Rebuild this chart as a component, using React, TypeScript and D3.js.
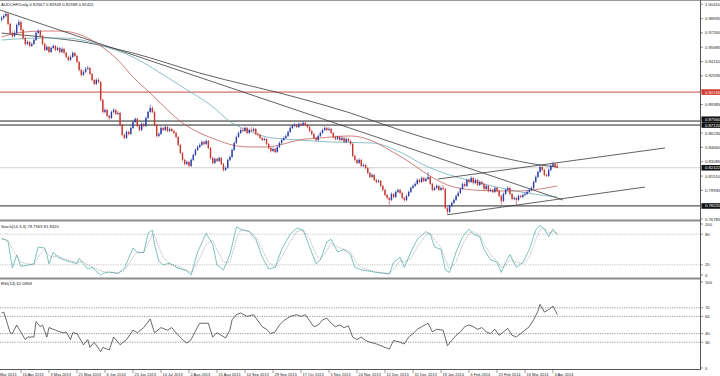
import React from 'react';
import * as d3 from 'd3';

// ---------- DATA ----------
const firstOpen = 0.987;
const closes = [0.9890,0.9912,0.9934,0.9824,0.9725,0.9692,0.9725,0.9813,0.9846,0.9758,
0.9670,0.9604,0.9626,0.9582,0.9604,0.9648,0.9725,0.9747,0.9692,0.9604,
0.9538,0.9571,0.9516,0.9560,0.9582,0.9538,0.9560,0.9516,0.9549,0.9505,
0.9461,0.9428,0.9461,0.9505,0.9472,0.9406,0.9318,0.9263,0.9296,0.9329,
0.9340,0.9274,0.9208,0.9164,0.9208,0.9186,0.8988,0.8856,0.8878,0.8812,
0.8790,0.8856,0.8878,0.8834,0.8845,0.8713,0.8603,0.8570,0.8636,0.8614,
0.8680,0.8746,0.8779,0.8702,0.8658,0.8724,0.8702,0.8790,0.8856,0.8900,
0.8856,0.8713,0.8592,0.8614,0.8680,0.8658,0.8691,0.8647,0.8669,0.8647,
0.8625,0.8581,0.8493,0.8405,0.8328,0.8284,0.8306,0.8262,0.8328,0.8383,
0.8438,0.8470,0.8493,0.8526,0.8504,0.8537,0.8460,0.8350,0.8295,0.8339,
0.8317,0.8350,0.8284,0.8218,0.8240,0.8328,0.8361,0.8438,0.8515,0.8581,
0.8625,0.8658,0.8647,0.8680,0.8625,0.8658,0.8647,0.8669,0.8614,0.8603,
0.8570,0.8548,0.8559,0.8504,0.8460,0.8427,0.8449,0.8416,0.8470,0.8515,
0.8548,0.8570,0.8592,0.8636,0.8680,0.8702,0.8713,0.8691,0.8724,0.8713,
0.8735,0.8713,0.8691,0.8647,0.8614,0.8570,0.8548,0.8592,0.8625,0.8658,
0.8680,0.8658,0.8669,0.8625,0.8581,0.8559,0.8581,0.8548,0.8570,0.8526,
0.8559,0.8537,0.8504,0.8372,0.8328,0.8295,0.8328,0.8262,0.8273,0.8240,
0.8185,0.8141,0.8163,0.8108,0.8086,0.8097,0.8042,0.7998,0.7943,0.7910,
0.7888,0.7954,0.7921,0.7976,0.7998,0.7965,0.7910,0.7888,0.7932,0.7976,
0.8020,0.8042,0.8064,0.8108,0.8086,0.8130,0.8097,0.8119,0.8141,0.8064,
0.7998,0.8020,0.8042,0.7998,0.8020,0.8009,0.7800,0.7756,0.7822,0.7855,
0.7888,0.7932,0.7965,0.8009,0.8064,0.8042,0.8108,0.8086,0.8130,0.8075,
0.8108,0.8053,0.8086,0.8064,0.8009,0.8042,0.7987,0.7998,0.7976,0.8020,
0.7987,0.7932,0.7877,0.7954,0.7998,0.8020,0.7954,0.7899,0.7910,0.7888,
0.7932,0.7921,0.7943,0.7954,0.7976,0.7998,0.8020,0.8086,0.8141,0.8196,
0.8251,0.8218,0.8163,0.8152,0.8218,0.8262,0.8284,0.8257,0.82422];
const highs = [0.9912,0.9931,0.9958,0.9946,0.9838,0.9741,0.9749,0.9829,0.9870,0.9858,
0.9773,0.9684,0.9645,0.9638,0.9622,0.9663,0.9741,0.9768,0.9760,0.9703,
0.9617,0.9589,0.9582,0.9577,0.9601,0.9594,0.9578,0.9571,0.9565,0.9560,
0.9517,0.9472,0.9479,0.9523,0.9516,0.9484,0.9417,0.9330,0.9314,0.9350,
0.9362,0.9352,0.9286,0.9219,0.9225,0.9230,0.9196,0.9002,0.8899,0.8890,
0.8825,0.8872,0.8897,0.8890,0.8866,0.8856,0.8725,0.8617,0.8652,0.8650,
0.8697,0.8762,0.8797,0.8790,0.8714,0.8741,0.8738,0.8806,0.8870,0.8935,
0.8918,0.8868,0.8726,0.8632,0.8698,0.8692,0.8708,0.8703,0.8686,0.8681,
0.8660,0.8638,0.8593,0.8506,0.8418,0.8340,0.8324,0.8318,0.8345,0.8398,
0.8452,0.8488,0.8512,0.8543,0.8540,0.8555,0.8549,0.8472,0.8362,0.8356,
0.8352,0.8366,0.8362,0.8296,0.8258,0.8344,0.8379,0.8454,0.8530,0.8597,
0.8642,0.8676,0.8684,0.8697,0.8692,0.8674,0.8688,0.8685,0.8680,0.8628,
0.8616,0.8582,0.8575,0.8571,0.8516,0.8472,0.8466,0.8460,0.8487,0.8530,
0.8565,0.8587,0.8610,0.8652,0.8697,0.8720,0.8733,0.8727,0.8741,0.8739,
0.8752,0.8748,0.8726,0.8703,0.8660,0.8626,0.8584,0.8608,0.8641,0.8674,
0.8698,0.8693,0.8687,0.8682,0.8637,0.8594,0.8598,0.8593,0.8588,0.8582,
0.8575,0.8572,0.8549,0.8516,0.8385,0.8340,0.8346,0.8340,0.8292,0.8285,
0.8252,0.8198,0.8180,0.8175,0.8121,0.8115,0.8109,0.8055,0.8010,0.7956,
0.7922,0.7970,0.7966,0.7992,0.8015,0.8010,0.7977,0.7922,0.7948,0.7991,
0.8036,0.8060,0.8082,0.8124,0.8122,0.8146,0.8143,0.8136,0.8195,0.8153,
0.8076,0.8038,0.8060,0.8054,0.8037,0.8052,0.8020,0.7812,0.7838,0.7870,
0.7905,0.7948,0.7982,0.8025,0.8080,0.8078,0.8124,0.8122,0.8148,0.8142,
0.8125,0.8120,0.8102,0.8100,0.8076,0.8058,0.8054,0.8016,0.8012,0.8036,
0.8032,0.7999,0.7944,0.7970,0.8014,0.8038,0.8032,0.7966,0.7928,0.7922,
0.7948,0.7946,0.7960,0.7972,0.7992,0.8015,0.8038,0.8102,0.8158,0.8212,
0.8268,0.8263,0.8230,0.8176,0.8234,0.8278,0.8309,0.8298,0.82949];
const lows = [0.9851,0.9875,0.9898,0.9810,0.9703,0.9670,0.9680,0.9712,0.9797,0.9741,
0.9652,0.9587,0.9590,0.9566,0.9571,0.9593,0.9636,0.9712,0.9678,0.9590,
0.9521,0.9526,0.9500,0.9507,0.9548,0.9524,0.9527,0.9503,0.9505,0.9490,
0.9447,0.9410,0.9418,0.9450,0.9460,0.9391,0.9302,0.9245,0.9250,0.9284,
0.9318,0.9260,0.9192,0.9148,0.9150,0.9170,0.8970,0.8838,0.8840,0.8795,
0.8770,0.8778,0.8842,0.8820,0.8822,0.8698,0.8588,0.8552,0.8560,0.8600,
0.8603,0.8668,0.8735,0.8688,0.8640,0.8647,0.8688,0.8690,0.8779,0.8845,
0.8840,0.8698,0.8575,0.8578,0.8601,0.8644,0.8646,0.8634,0.8635,0.8633,
0.8610,0.8566,0.8478,0.8390,0.8312,0.8268,0.8272,0.8248,0.8251,0.8316,
0.8371,0.8426,0.8459,0.8480,0.8490,0.8492,0.8446,0.8335,0.8280,0.8284,
0.8303,0.8305,0.8270,0.8200,0.8206,0.8230,0.8316,0.8350,0.8426,0.8503,
0.8570,0.8612,0.8633,0.8635,0.8610,0.8613,0.8632,0.8636,0.8600,0.8588,
0.8556,0.8533,0.8535,0.8490,0.8446,0.8411,0.8415,0.8400,0.8405,0.8458,
0.8503,0.8537,0.8558,0.8580,0.8625,0.8668,0.8690,0.8678,0.8680,0.8700,
0.8702,0.8700,0.8677,0.8633,0.8600,0.8556,0.8532,0.8537,0.8580,0.8613,
0.8646,0.8644,0.8645,0.8611,0.8567,0.8544,0.8547,0.8534,0.8536,0.8512,
0.8514,0.8524,0.8490,0.8358,0.8312,0.8280,0.8284,0.8248,0.8250,0.8226,
0.8170,0.8126,0.8130,0.8094,0.8070,0.8074,0.8028,0.7983,0.7928,0.7894,
0.7835,0.7876,0.7906,0.7910,0.7964,0.7950,0.7896,0.7870,0.7876,0.7920,
0.7965,0.8008,0.8030,0.8052,0.8072,0.8074,0.8083,0.8085,0.8108,0.8050,
0.7984,0.7986,0.8008,0.7984,0.7986,0.7995,0.7786,0.7725,0.7745,0.7810,
0.7842,0.7876,0.7920,0.7953,0.7998,0.8028,0.8030,0.8072,0.8075,0.8060,
0.8062,0.8040,0.8040,0.8050,0.7995,0.7996,0.7972,0.7975,0.7962,0.7965,
0.7973,0.7918,0.7835,0.7866,0.7942,0.7986,0.7940,0.7884,0.7886,0.7838,
0.7876,0.7906,0.7908,0.7930,0.7942,0.7964,0.7986,0.8008,0.8074,0.8130,
0.8184,0.8204,0.8148,0.8140,0.8140,0.8206,0.8250,0.8242,0.82388];

// moving averages: [bar index, price]
const maRed = [[0,0.9680],[7,0.9724],[19,0.9746],[27,0.9746],[38,0.9692],[46,0.9582],[54,0.9428],[61,0.9240],[69,0.9064],[77,0.8878],[84,0.8735],[92,0.8625],[100,0.8548],[107,0.8493],[115,0.8471],[123,0.8471],[131,0.8504],[138,0.8548],[148,0.8570],[162,0.8592],[171,0.8548],[180,0.8438],[190,0.8295],[196,0.8196],[207,0.8053],[219,0.7998],[231,0.7987],[241,0.7987],[250,0.8009],[258,0.8042]];
const maTeal = [[0,0.9647],[18,0.9669],[30,0.9669],[41,0.9625],[50,0.9559],[61,0.9460],[73,0.9295],[84,0.9130],[97,0.8932],[107,0.8735],[115,0.8647],[123,0.8581],[131,0.8559],[138,0.8548],[152,0.8526],[172,0.8515],[185,0.8415],[196,0.8273],[208,0.8163],[222,0.8075],[236,0.7998],[250,0.7943],[258,0.7921]];
const maDark = [[0,0.9724],[19,0.9680],[38,0.9625],[61,0.9504],[92,0.9284],[138,0.9009],[162,0.8844],[185,0.8657],[208,0.8493],[231,0.8361],[250,0.8273],[258,0.8251]];

// trend lines: [[bar, price], [bar, price]]
const trendLines = [
  [[-0.7, 0.99775], [260.6, 0.78875]],
  [[202.6, 0.8118], [308, 0.8460]],
  [[207, 0.7725], [298.7, 0.8030]],
];

// horizontal levels
const levelValues = [0.90745, 0.87560, 0.87120, 0.82422, 0.78220];

const mainTicks = [1.0041,0.98835,0.9726,0.95685,0.9411,0.92535,0.9096,0.89385,0.8781,0.86235,0.8466,0.83085,0.8151,0.79935,0.7836,0.76785];

const stochMain = [[0,72],[2,69],[3,65],[5,14],[7,39],[9,17],[12,19],[15,22],[17,55],[20,53],[21,40],[22,22],[24,45],[26,35],[30,28],[35,22],[36,33],[38,22],[40,12],[42,15],[46,0],[47,3],[50,6],[54,3],[57,13],[61,53],[63,44],[66,44],[68,82],[70,88],[71,60],[73,27],[75,20],[78,23],[81,15],[86,8],[88,0],[91,45],[95,82],[98,60],[100,20],[103,10],[106,40],[109,94],[111,90],[115,85],[118,70],[121,35],[124,12],[127,15],[130,50],[134,80],[137,92],[140,88],[143,55],[146,22],[148,30],[151,65],[153,70],[156,45],[159,50],[162,40],[164,15],[167,10],[170,8],[174,5],[178,3],[180,2],[182,25],[185,35],[187,15],[190,45],[193,70],[197,85],[199,80],[201,55],[204,50],[206,10],[208,5],[211,45],[214,75],[217,90],[219,80],[222,75],[224,50],[227,30],[230,25],[232,5],[234,25],[236,40],[239,15],[242,25],[245,50],[248,88],[250,97],[252,90],[254,75],[256,90],[258,78.76]];
const stochSignal = [[0,70],[3,68],[5,50],[7,38],[9,25],[12,22],[15,20],[17,35],[20,50],[22,38],[24,35],[26,38],[30,30],[35,25],[38,26],[40,20],[42,16],[46,8],[50,5],[54,4],[57,8],[61,35],[63,45],[66,44],[68,62],[70,80],[71,78],[73,55],[75,35],[78,22],[81,18],[86,10],[88,5],[91,25],[95,60],[98,68],[100,50],[103,25],[106,25],[109,70],[111,88],[115,86],[118,75],[121,50],[124,25],[127,15],[130,35],[134,65],[137,85],[140,88],[143,70],[146,40],[148,30],[151,48],[153,62],[156,55],[159,50],[162,45],[164,28],[167,15],[170,10],[174,6],[178,4],[180,3],[182,12],[185,28],[187,25],[190,32],[193,55],[197,78],[199,82],[201,68],[204,55],[206,30],[208,12],[211,25],[214,60],[217,82],[219,85],[222,78],[224,62],[227,40],[230,28],[232,15],[234,18],[236,30],[239,25],[242,22],[245,35],[248,70],[250,88],[252,92],[254,82],[256,85],[258,81.83]];
const stochLevels = [80, 20];
const stochTicks = [100, 80, 20, 0];

const rsi = [[0,64],[1,65],[4,41],[5,40],[7,50],[11,33],[12,36],[15,36],[16,54],[18,48],[19,50],[21,36],[22,47],[25,44],[27,42],[29,41],[30,42],[32,33],[33,41],[35,40],[38,27],[40,33],[41,24],[43,30],[46,19],[47,24],[50,21],[52,36],[55,27],[58,33],[61,44],[63,41],[66,47],[69,57],[71,41],[74,47],[77,44],[79,47],[81,41],[84,33],[86,29],[88,33],[91,48],[92,52],[94,52],[96,52],[98,36],[100,41],[102,38],[104,35],[106,44],[107,56],[109,62],[111,64],[114,60],[117,62],[119,55],[121,48],[123,45],[125,40],[127,42],[129,50],[131,55],[134,60],[137,62],[139,60],[141,62],[143,55],[145,48],[147,50],[149,56],[151,58],[153,52],[155,48],[157,50],[159,47],[161,49],[163,36],[165,33],[167,36],[169,32],[171,30],[174,28],[177,25],[180,22],[182,32],[185,30],[187,28],[189,36],[191,40],[193,45],[195,48],[198,52],[200,42],[202,45],[205,44],[207,26],[209,32],[211,38],[213,42],[215,48],[217,50],[219,48],[221,45],[223,47],[225,42],[227,40],[229,45],[231,38],[233,42],[235,46],[237,38],[239,36],[241,40],[243,44],[245,48],[247,56],[249,66],[250,74],[252,65],[254,68],[256,72],[258,62.1]];
const rsiLevels = [70, 60, 40, 30];
const rsiTicks = [100, 70, 60, 40, 30, 0];

const xTickIdx = [-4, 9, 22, 35, 48, 61, 74, 87, 100, 113, 126, 139, 152, 165, 178, 191, 204, 217, 230, 243, 256];
const xTickLabels = ["28 Mar 2013","16 Apr 2013","3 May 2013","21 May 2013","6 Jun 2013","25 Jun 2013","14 Jul 2013","2 Aug 2013","21 Aug 2013","10 Sep 2013","29 Sep 2013","17 Oct 2013","5 Nov 2013","24 Nov 2013","12 Dec 2013","31 Dec 2013","19 Jan 2014","6 Feb 2014","25 Feb 2014","16 Mar 2014","3 Apr 2014"];

const headerText = "AUDCHF,Daily  0.82567 0.82949 0.82388 0.82422";
const stochTitle = "Stoch(14,3,3) 78.7563 81.8320";
const rsiTitle = "RSI(14) 62.0968";

// ---------- CHART ----------
export default function App() {
  const W = 720, H = 376;
  const axisX = 700.5;
  const font = "'Liberation Sans', Arial, sans-serif";
  const fs = 4.2;

  const x = d3.scaleLinear().domain([0, 258]).range([1.6, 557.3]);
  const yM = d3.scaleLinear().domain([0.76785, 1.0041]).range([219, 4.23]);
  const yS = d3.scaleLinear().domain([0, 100]).range([275, 224]);
  const yR = d3.scaleLinear().domain([0, 100]).range([368, 282]);

  const opens = closes.map((c, i) => (i === 0 ? firstOpen : closes[i - 1]));
  const bull = '#2b3ea8';
  const bear = '#c8362f';

  const maLine = d3.line<number[]>().x(d => x(d[0])).y(d => yM(d[1])).curve(d3.curveMonotoneX);
  const sLine = d3.line<number[]>().x(d => x(d[0])).y(d => yS(d[1]));
  const rLine = d3.line<number[]>().x(d => x(d[0])).y(d => yR(d[1]));
  const fmt = d3.format('.5f');

  const levelColors = ['#c0392b', '#222', '#222', '#bbb', '#555'];
  const levelBox = ['#d23a2e', '#111', '#111', '#111', '#111'];
  const levelWidth = [0.9, 1, 1, 0.7, 1.3];

  // axis labels hidden under the level label boxes
  const visibleTicks = mainTicks.filter(v => levelValues.every(l => Math.abs(yM(v) - yM(l)) > 5.8));
  // stack the two close level boxes so they don't overlap
  const boxY = levelValues.map(v => yM(v));
  boxY[1] = Math.min(boxY[1], boxY[2] - 5.8);

  return (
    <div style={{ position: 'absolute', left: 0, top: 0 }}>
      <svg width={W} height={H} style={{ display: 'block', background: '#fff' }} fontFamily={font}>
        <defs>
          <clipPath id="mainClip"><rect x={0} y={1} width={axisX} height={218.5} /></clipPath>
          <clipPath id="stochClip"><rect x={0} y={221.5} width={axisX} height={56} /></clipPath>
          <clipPath id="rsiClip"><rect x={0} y={279.5} width={axisX} height={90} /></clipPath>
        </defs>
        <rect x={0} y={0} width={W} height={H} fill="#fff" />
        {/* top border */}
        <line x1={0} x2={W} y1={0.5} y2={0.5} stroke="#9a9a9a" strokeWidth={1} />

        {/* main panel */}
        <g clipPath="url(#mainClip)">
          {levelValues.map((v, i) => (
            <line key={'lv' + i} x1={0} x2={axisX} y1={yM(v)} y2={yM(v)} stroke={levelColors[i]} strokeWidth={levelWidth[i]} />
          ))}
          <path d={maLine(maDark) || ''} fill="none" stroke="#3a3a3a" strokeWidth={0.8} />
          <path d={maLine(maTeal) || ''} fill="none" stroke="#6fb0b8" strokeWidth={0.8} />
          <path d={maLine(maRed) || ''} fill="none" stroke="#c0605a" strokeWidth={0.8} />
          {trendLines.map((t, i) => (
            <line key={'tl' + i} x1={x(t[0][0])} y1={yM(t[0][1])} x2={x(t[1][0])} y2={yM(t[1][1])} stroke="#3a3a3a" strokeWidth={0.8} />
          ))}
          {closes.map((c, i) => {
            const o = opens[i];
            const col = c >= o ? bull : bear;
            const top = yM(Math.max(o, c));
            const bot = yM(Math.min(o, c));
            return (
              <g key={'c' + i}>
                <line x1={x(i)} x2={x(i)} y1={yM(highs[i])} y2={yM(lows[i])} stroke={col} strokeWidth={0.6} />
                <rect x={x(i) - 0.7} y={top} width={1.4} height={Math.max(0.6, bot - top)} fill={col} />
              </g>
            );
          })}
        </g>
        <text x={1} y={6} fontSize={fs} fill="#222">{headerText}</text>

        {/* main axis labels */}
        {mainTicks.map((v, i) => (
          <line key={'mk' + i} x1={axisX} x2={axisX + 2.5} y1={yM(v)} y2={yM(v)} stroke="#444" strokeWidth={0.6} />
        ))}
        {visibleTicks.map((v, i) => (
          <text key={'mt' + i} x={705} y={yM(v) + 1.5} fontSize={fs} fill="#222">{fmt(v)}</text>
        ))}
        {levelValues.map((v, i) => (
          <g key={'lb' + i}>
            <rect x={701.5} y={boxY[i] - 2.8} width={18.5} height={5.6} fill={levelBox[i]} />
            <text x={705} y={boxY[i] + 1.5} fontSize={fs} fill="#fff">{fmt(v)}</text>
          </g>
        ))}

        {/* separators */}
        <rect x={0} y={219.5} width={axisX} height={2} fill="#8c8c8c" />
        <rect x={0} y={277.5} width={axisX} height={2} fill="#8c8c8c" />

        {/* stochastic */}
        <g clipPath="url(#stochClip)">
          {stochLevels.map((v, i) => (
            <line key={'sl' + i} x1={0} x2={axisX} y1={yS(v)} y2={yS(v)} stroke="#9a9a9a" strokeWidth={0.6} strokeDasharray="1.2,1.2" />
          ))}
          <path d={sLine(stochMain) || ''} fill="none" stroke="#5fb3ad" strokeWidth={0.8} />
          <path d={sLine(stochSignal) || ''} fill="none" stroke="#777" strokeWidth={0.6} strokeDasharray="1,1" />
        </g>
        <text x={1} y={227.8} fontSize={fs} fill="#222">{stochTitle}</text>
        {stochTicks.map((v, i) => (
          <g key={'st' + i}>
            <line x1={axisX} x2={axisX + 2.5} y1={yS(v)} y2={yS(v)} stroke="#444" strokeWidth={0.6} />
            <text x={705} y={yS(v) + 1.5} fontSize={fs} fill="#222">{v}</text>
          </g>
        ))}

        {/* RSI */}
        <g clipPath="url(#rsiClip)">
          {rsiLevels.map((v, i) => (
            <line key={'rl' + i} x1={0} x2={axisX} y1={yR(v)} y2={yR(v)} stroke="#555" strokeWidth={0.6} strokeDasharray="1.2,1.2" />
          ))}
          <path d={rLine(rsi) || ''} fill="none" stroke="#2a2a2a" strokeWidth={0.7} />
        </g>
        <text x={1} y={285} fontSize={fs} fill="#222">{rsiTitle}</text>
        {rsiTicks.map((v, i) => (
          <g key={'rt' + i}>
            <line x1={axisX} x2={axisX + 2.5} y1={yR(v)} y2={yR(v)} stroke="#444" strokeWidth={0.6} />
            <text x={705} y={yR(v) + 1.5} fontSize={fs} fill="#222">{v}</text>
          </g>
        ))}

        {/* frame */}
        <line x1={axisX} x2={axisX} y1={0} y2={370} stroke="#555" strokeWidth={1} />
        <line x1={0} x2={axisX} y1={369.5} y2={369.5} stroke="#555" strokeWidth={1} />

        {/* x axis */}
        {xTickIdx.map((idx, i) => {
          const tx = x(idx);
          return (
            <g key={'xt' + i}>
              <line x1={tx} x2={tx} y1={370} y2={373} stroke="#555" strokeWidth={0.6} />
              <text x={tx + 1.5} y={375.5} fontSize={3.9} fill="#222">{xTickLabels[i]}</text>
            </g>
          );
        })}
      </svg>
    </div>
  );
}
